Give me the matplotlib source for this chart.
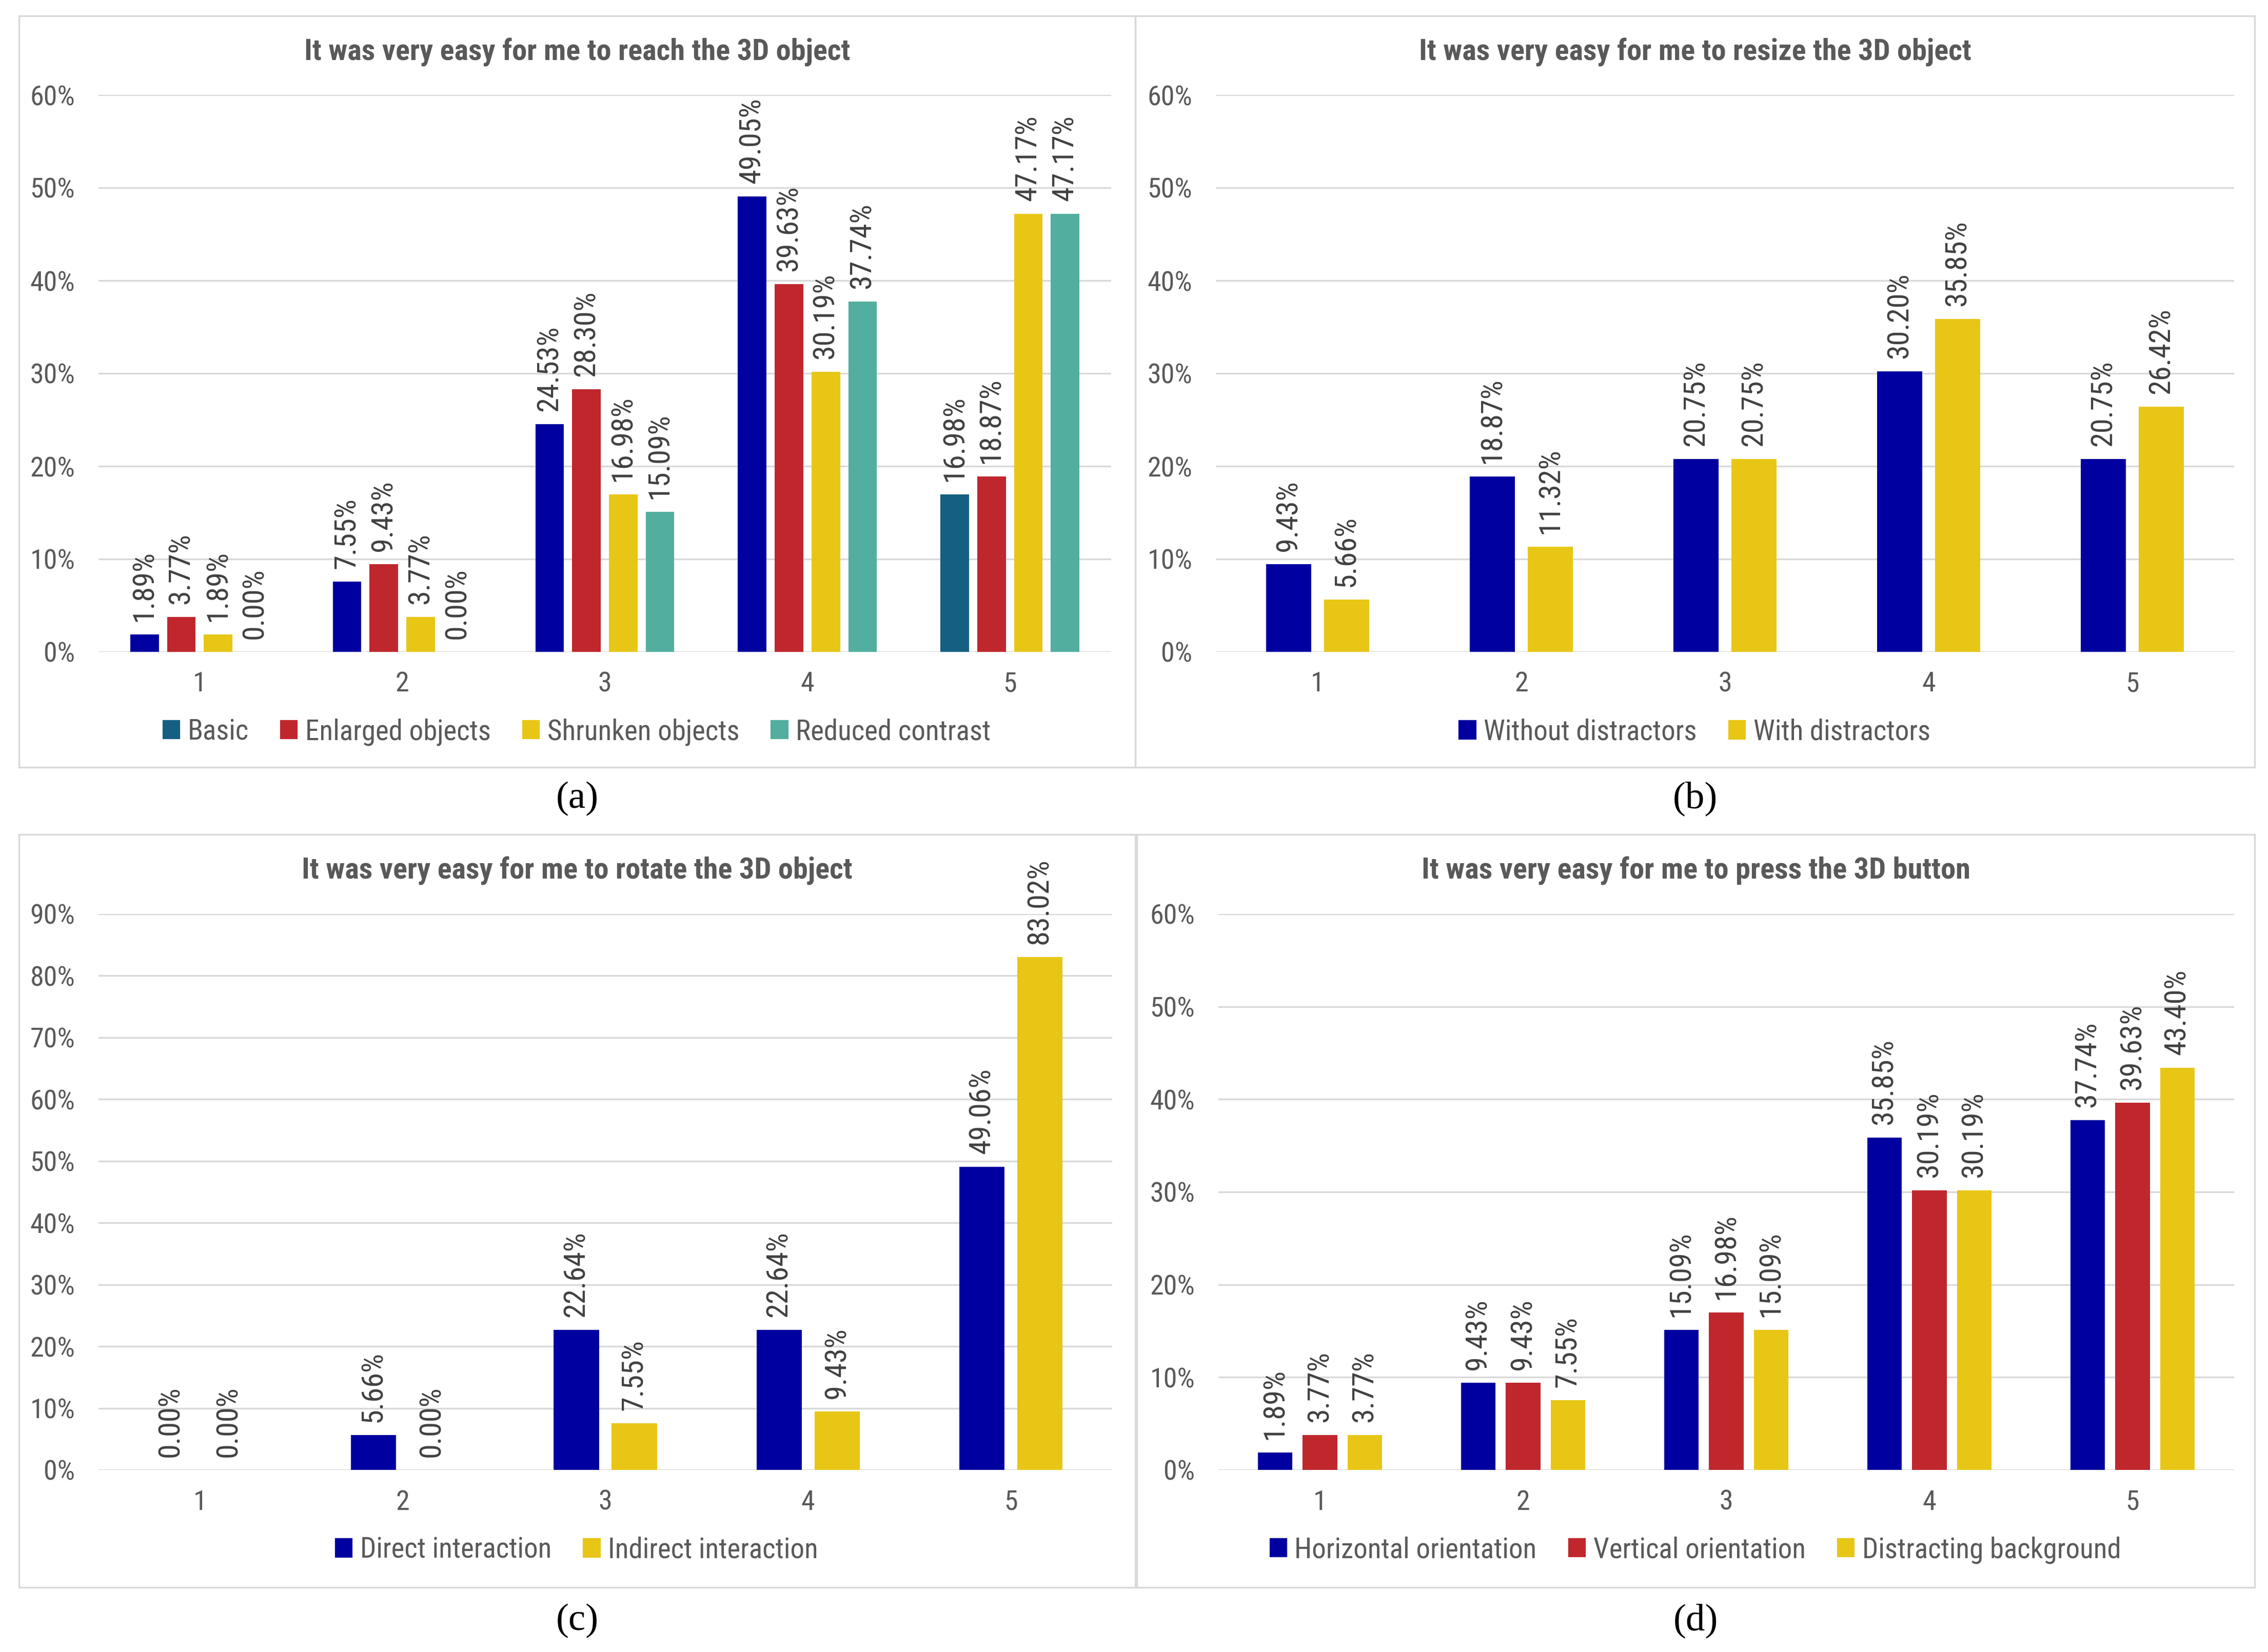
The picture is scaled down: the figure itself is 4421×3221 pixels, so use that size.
"""
Four panels of grouped bars: share of answers (1-5) for the
"It was very easy for me to ..." questions.
"""

import matplotlib.pyplot as plt
from matplotlib.patches import Patch, Rectangle
import numpy as np

plt.rcParams['font.family'] = ['Roboto Condensed', 'Liberation Sans', 'DejaVu Sans']

# Answer scale
answers = ["1", "2", "3", "4", "5"]

# (a) reach
reach_titles = "It was very easy for me to reach the 3D object"
reach_names = ["Basic", "Enlarged objects", "Shrunken objects", "Reduced contrast"]
reach_basic = [1.89, 7.55, 24.53, 49.05, 16.98]
reach_enlarged = [3.77, 9.43, 28.30, 39.63, 18.87]
reach_shrunken = [1.89, 3.77, 16.98, 30.19, 47.17]
reach_contrast = [0.00, 0.00, 15.09, 37.74, 47.17]

# (b) resize
resize_title = "It was very easy for me to resize the 3D object"
resize_names = ["Without distractors", "With distractors"]
resize_without = [9.43, 18.87, 20.75, 30.20, 20.75]
resize_with = [5.66, 11.32, 20.75, 35.85, 26.42]

# (c) rotate
rotate_title = "It was very easy for me to rotate the 3D object"
rotate_names = ["Direct interaction", "Indirect interaction"]
rotate_direct = [0.00, 5.66, 22.64, 22.64, 49.06]
rotate_indirect = [0.00, 0.00, 7.55, 9.43, 83.02]

# (d) press
press_title = "It was very easy for me to press the 3D button"
press_names = ["Horizontal orientation", "Vertical orientation", "Distracting background"]
press_horizontal = [1.89, 9.43, 15.09, 35.85, 37.74]
press_vertical = [3.77, 9.43, 16.98, 30.19, 39.63]
press_distracting = [3.77, 7.55, 15.09, 30.19, 43.40]

captions = ["(a)", "(b)", "(c)", "(d)"]

BLUE = '#0000A0'
RED = '#C0272D'
YELLOW = '#E8C616'
TEAL = '#52AE9F'
DARKTEAL = '#156082'
GRID = '#D9D9D9'
TXT = '#595959'
LBL = '#404040'

W, H = 4421, 3221
fig = plt.figure(figsize=(W / 300, H / 300), dpi=300)


def fx(px):
    return px / W


def fy(py):
    return 1 - py / H


def panel(box, axbox, title, series, names, colors, legend_colors, width, pitch,
          ymax, caption, cap_y):
    bx0, by0, bx1, by1 = box
    fig.patches.append(Rectangle((fx(bx0), fy(by1)), fx(bx1 - bx0), (by1 - by0) / H,
                                 transform=fig.transFigure, fill=False,
                                 edgecolor=GRID, linewidth=0.8))
    ax0, ay0, ax1, ay1 = axbox
    ax = fig.add_axes([fx(ax0), fy(ay1), fx(ax1 - ax0), (ay1 - ay0) / H])
    x = np.arange(len(answers))
    n = len(series)
    for i, vals in enumerate(series):
        pos = x + (i - (n - 1) / 2) * pitch
        ax.bar(pos, vals, width=width, color=colors[i], zorder=3)
        for p, v in zip(pos, vals):
            ax.annotate(f"{v:.2f}%", (p, v), xytext=(0, 6), textcoords='offset points',
                        rotation=90, ha='center', va='bottom', fontsize=14, color=LBL)
    ax.set_xlim(-0.5, len(answers) - 0.5)
    ax.set_ylim(0, ymax)
    ax.set_xticks(x)
    ax.set_xticklabels(answers)
    ticks = np.arange(0, ymax + 1, 10)
    ax.set_yticks(ticks)
    ax.set_yticklabels([f"{t:.0f}%" for t in ticks])
    ax.tick_params(axis='y', length=0, pad=11, labelsize=13, labelcolor=TXT)
    ax.tick_params(axis='x', length=0, pad=9, labelsize=13, labelcolor=TXT)
    for s in ax.spines.values():
        s.set_visible(False)
    ax.grid(axis='y', color=GRID, linewidth=0.8, zorder=0)
    ax.set_axisbelow(True)
    ax.patch.set_alpha(0)

    cx = (bx0 + bx1) / 2
    fig.text(fx(cx), fy(by0 + 71), title, ha='center', va='center',
             fontsize=14, fontweight='bold', color=TXT)
    handles = [Patch(color=c, label=nm) for c, nm in zip(legend_colors, names)]
    ax.legend(handles=handles, loc='center', bbox_to_anchor=(fx(cx), fy(ay1 + 156)),
              bbox_transform=fig.transFigure, ncol=len(names), frameon=False,
              fontsize=13.2, labelcolor=TXT, handlelength=0.55, handleheight=0.55,
              handletextpad=0.3, columnspacing=1.15, borderpad=0)
    fig.text(fx(cx), fy(cap_y), caption, ha='center', va='center', fontsize=18,
             family=['Liberation Serif', 'DejaVu Serif'], color='black')
    return ax


# (a) - the Basic bar at answer 5 is drawn in a darker teal, as in the original
ax_a = panel((37, 31, 2213, 1496), (192, 185, 2166, 1271), reach_titles,
             [reach_basic, reach_enlarged, reach_shrunken, reach_contrast], reach_names,
             [[BLUE, BLUE, BLUE, BLUE, DARKTEAL], RED, YELLOW, TEAL],
             [DARKTEAL, RED, YELLOW, TEAL], 0.141, 0.1817, 60, captions[0], 1557)

ax_b = panel((2213, 31, 4395, 1496), (2370, 185, 4355, 1271), resize_title,
             [resize_without, resize_with], resize_names, [BLUE, YELLOW], [BLUE, YELLOW],
             0.22, 0.285, 60, captions[1], 1557)

ax_c = panel((37, 1627, 2213, 3095), (192, 1782, 2168, 2866), rotate_title,
             [rotate_direct, rotate_indirect], rotate_names, [BLUE, YELLOW], [BLUE, YELLOW],
             0.223, 0.286, 90, captions[2], 3160)

ax_d = panel((2216, 1627, 4395, 3095), (2375, 1782, 4355, 2866), press_title,
             [press_horizontal, press_vertical, press_distracting], press_names,
             [BLUE, RED, YELLOW], [BLUE, RED, YELLOW], 0.171, 0.221, 60, captions[3], 3160)

plt.savefig('out.png', dpi=300)
